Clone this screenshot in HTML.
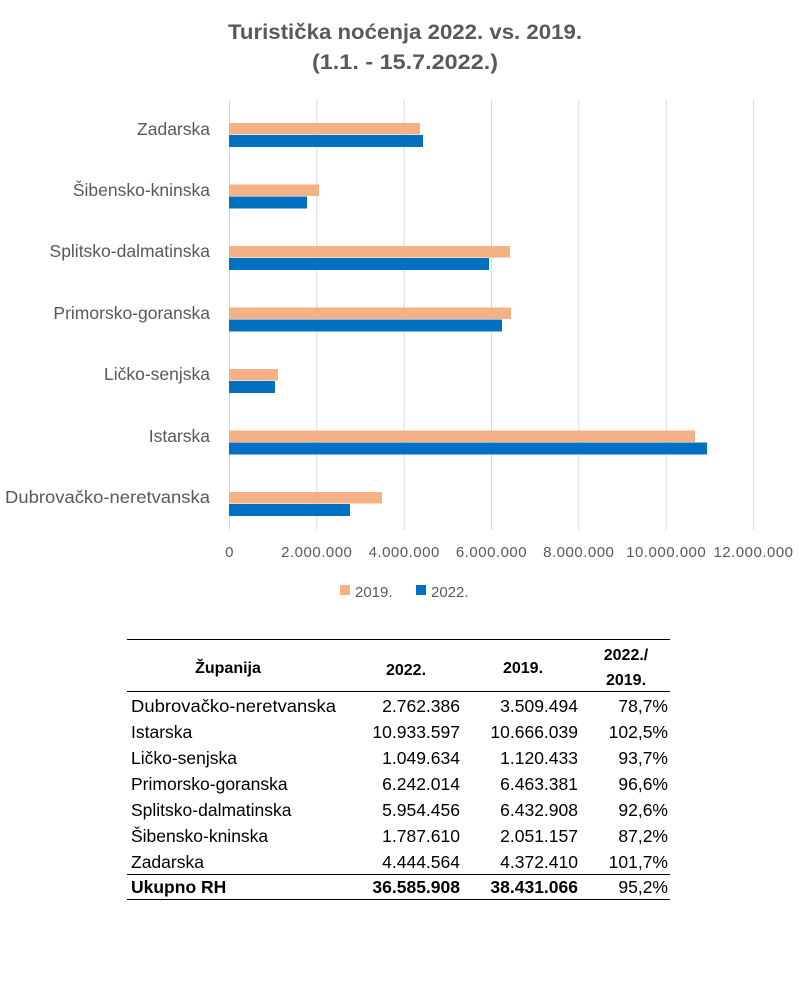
<!DOCTYPE html>
<html><head><meta charset="utf-8"><style>
body{margin:0;background:#fff;}
svg text{font-family:"Liberation Sans",sans-serif;}
</style></head><body>
<svg width="809" height="1000" xmlns="http://www.w3.org/2000/svg">
<rect width="809" height="1000" fill="#fff"/>
<g fill="#595959" font-weight="bold" font-size="21" text-anchor="middle">
<text x="405" y="39" textLength="354" lengthAdjust="spacingAndGlyphs">Turistička noćenja 2022. vs. 2019.</text>
<text x="405" y="69" textLength="186" lengthAdjust="spacingAndGlyphs">(1.1. - 15.7.2022.)</text>
</g>
<g stroke="#d9d9d9" stroke-width="1">
<line x1="229.5" y1="100" x2="229.5" y2="530"/>
<line x1="316.8" y1="100" x2="316.8" y2="530"/>
<line x1="404.2" y1="100" x2="404.2" y2="530"/>
<line x1="491.5" y1="100" x2="491.5" y2="530"/>
<line x1="578.8" y1="100" x2="578.8" y2="530"/>
<line x1="666.2" y1="100" x2="666.2" y2="530"/>
<line x1="753.5" y1="100" x2="753.5" y2="530"/>
</g>
<g>
<rect x="229" y="123" width="191" height="11.5" fill="#F4B183"/><rect x="229" y="135" width="194" height="12" fill="#0070C0"/>
<rect x="229" y="184.5" width="90" height="11.5" fill="#F4B183"/><rect x="229" y="196.5" width="78" height="12" fill="#0070C0"/>
<rect x="229" y="246" width="281" height="11.5" fill="#F4B183"/><rect x="229" y="258" width="260" height="12" fill="#0070C0"/>
<rect x="229" y="307.5" width="282" height="11.5" fill="#F4B183"/><rect x="229" y="319.5" width="273" height="12" fill="#0070C0"/>
<rect x="229" y="369" width="49" height="11.5" fill="#F4B183"/><rect x="229" y="381" width="46" height="12" fill="#0070C0"/>
<rect x="229" y="430.5" width="466" height="11.5" fill="#F4B183"/><rect x="229" y="442.5" width="478" height="12" fill="#0070C0"/>
<rect x="229" y="492" width="153" height="11.5" fill="#F4B183"/><rect x="229" y="504" width="121" height="12" fill="#0070C0"/>
</g>
<g fill="#595959" font-size="17.5" text-anchor="end">
<text x="210" y="135">Zadarska</text>
<text x="210" y="196">Šibensko-kninska</text>
<text x="210" y="257">Splitsko-dalmatinska</text>
<text x="210" y="319">Primorsko-goranska</text>
<text x="210" y="380">Ličko-senjska</text>
<text x="210" y="442">Istarska</text>
<text x="210" y="503" textLength="205" lengthAdjust="spacingAndGlyphs">Dubrovačko-neretvanska</text>
</g>
<g fill="#595959" font-size="15" text-anchor="middle" letter-spacing="0.5">
<text x="229.5" y="557">0</text>
<text x="316.8" y="557">2.000.000</text>
<text x="404.2" y="557">4.000.000</text>
<text x="491.5" y="557">6.000.000</text>
<text x="578.8" y="557">8.000.000</text>
<text x="666.2" y="557">10.000.000</text>
<text x="753.5" y="557">12.000.000</text>
</g>
<rect x="340" y="585" width="10" height="10" fill="#F4B183"/>
<text x="355" y="597" fill="#595959" font-size="15">2019.</text>
<rect x="416" y="585" width="10" height="10" fill="#0070C0"/>
<text x="431" y="597" fill="#595959" font-size="15">2022.</text>
<g stroke="#000" stroke-width="1">
<line x1="127" y1="639.5" x2="670" y2="639.5"/>
<line x1="127" y1="691.5" x2="670" y2="691.5"/>
<line x1="127" y1="874.5" x2="670" y2="874.5"/>
<line x1="127" y1="899.5" x2="670" y2="899.5"/>
</g>
<g font-size="16" fill="#000" font-weight="bold" text-anchor="middle">
<text x="228" y="673">Županija</text>
<text x="406" y="675">2022.</text>
<text x="523" y="673">2019.</text>
<text x="626" y="660">2022./</text>
<text x="626" y="685">2019.</text>
</g>
<g font-size="17.5" fill="#000">
<g>
<text x="131" y="712" textLength="205" lengthAdjust="spacingAndGlyphs">Dubrovačko-neretvanska</text>
<text x="131" y="738">Istarska</text>
<text x="131" y="764">Ličko-senjska</text>
<text x="131" y="790">Primorsko-goranska</text>
<text x="131" y="816">Splitsko-dalmatinska</text>
<text x="131" y="842">Šibensko-kninska</text>
<text x="131" y="868">Zadarska</text>
<text x="131" y="893" font-weight="bold">Ukupno RH</text>
</g>
<g text-anchor="end">
<text x="460" y="712">2.762.386</text><text x="578" y="712">3.509.494</text><text x="668" y="712">78,7%</text>
<text x="460" y="738">10.933.597</text><text x="578" y="738">10.666.039</text><text x="668" y="738">102,5%</text>
<text x="460" y="764">1.049.634</text><text x="578" y="764">1.120.433</text><text x="668" y="764">93,7%</text>
<text x="460" y="790">6.242.014</text><text x="578" y="790">6.463.381</text><text x="668" y="790">96,6%</text>
<text x="460" y="816">5.954.456</text><text x="578" y="816">6.432.908</text><text x="668" y="816">92,6%</text>
<text x="460" y="842">1.787.610</text><text x="578" y="842">2.051.157</text><text x="668" y="842">87,2%</text>
<text x="460" y="868">4.444.564</text><text x="578" y="868">4.372.410</text><text x="668" y="868">101,7%</text>
<text x="460" y="893" font-weight="bold">36.585.908</text><text x="578" y="893" font-weight="bold">38.431.066</text><text x="668" y="893">95,2%</text>
</g>
</g>
</svg>
</body></html>
